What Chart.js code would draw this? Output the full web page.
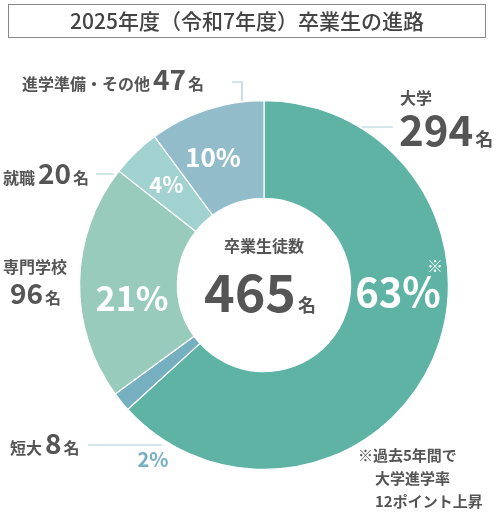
<!DOCTYPE html>
<html><head><meta charset="utf-8">
<script src="https://cdn.jsdelivr.net/npm/chart.js@4"></script>
<style>
body{margin:0;background:#fff;}
#wrap{position:relative;width:496px;height:520px;}
#title{position:absolute;left:8px;top:4px;width:478px;height:34px;border:1.5px solid #888;box-sizing:border-box;
 font:500 21px "Noto Sans CJK JP";color:#444;text-align:center;line-height:31px;}
</style></head><body>
<div id="wrap">
<div id="title">2025年度（令和7年度）卒業生の進路</div>
<canvas id="c" width="496" height="520"></canvas>
</div>
<script>
const categories = ['大学', '短大', '専門学校', '就職', '進学準備・その他'];
const counts = [294, 8, 96, 20, 47];
const percents = ['63%', '2%', '21%', '4%', '10%'];
const total = 465;
const colors = ['#5fb3a5', '#76afc0', '#98cbbb', '#a2d2cf', '#93bccb'];

const NUM = '"Liberation Sans Narrow", "Noto Sans CJK JP"';
const JP = '"Noto Sans CJK JP"';

function seg(ctx, x, y, parts) {
  let cx = x;
  parts.forEach(p => {
    ctx.font = 'bold ' + p[1] + 'px ' + p[2];
    ctx.fillText(p[0], cx, y);
    cx += ctx.measureText(p[0]).width + (p[3] || 0);
  });
}

const labels = {
  id: 'labels',
  afterDraw(chart) {
    const ctx = chart.ctx;
    const meta = chart.getDatasetMeta(0);
    ctx.save();
    ctx.textAlign = 'center'; ctx.textBaseline = 'middle';
    const spots = [[398, 292, 40], [153, 459, 20], [132, 298, 34], null, [213, 157, 26]];
    meta.data.forEach((arc, i) => {
      ctx.fillStyle = i === 1 ? colors[1] : '#fff';
      if (spots[i]) {
        ctx.font = 'bold ' + spots[i][2] + 'px ' + NUM;
        ctx.fillText(percents[i], spots[i][0], spots[i][1]);
        return;
      }
      const p = arc.getProps(['x', 'y', 'startAngle', 'endAngle', 'innerRadius', 'outerRadius'], true);
      const a = (p.startAngle + p.endAngle) / 2;
      const r = p.innerRadius + (p.outerRadius - p.innerRadius) * 0.55;
      ctx.font = 'bold 22px ' + NUM;
      ctx.fillText(percents[i], p.x + Math.cos(a) * r, p.y + Math.sin(a) * r);
    });
    ctx.fillStyle = '#fff';
    ctx.font = 'bold 16px ' + JP;
    ctx.fillText('※', 435, 266);

    ctx.strokeStyle = '#a9cfd2'; ctx.lineWidth = 1.2;
    ctx.beginPath();
    ctx.moveTo(232, 82); ctx.lineTo(242, 82); ctx.lineTo(242, 101);
    ctx.moveTo(362, 127); ctx.lineTo(393, 127);
    ctx.moveTo(96, 174); ctx.lineTo(114, 174);
    ctx.moveTo(88, 445); ctx.lineTo(162, 445);
    ctx.stroke();

    ctx.textAlign = 'left'; ctx.textBaseline = 'alphabetic';
    ctx.fillStyle = '#555';
    seg(ctx, 22, 90, [['進学準備・その他', 16, JP, 3], ['47', 28, NUM, 2], ['名', 16, JP]]);
    seg(ctx, 400, 104, [['大学', 16, JP]]);
    seg(ctx, 399, 146, [['294', 42, NUM, 2], ['名', 18, JP]]);
    seg(ctx, 3, 184, [['就職', 16, JP, 3], ['20', 28, NUM, 2], ['名', 16, JP]]);
    seg(ctx, 3, 273, [['専門学校', 16, JP]]);
    seg(ctx, 10, 304, [['96', 28, NUM, 2], ['名', 16, JP]]);
    seg(ctx, 10, 454, [['短大', 16, JP, 3], ['8', 28, NUM, 2], ['名', 16, JP]]);
    ctx.font = 'bold 15px ' + JP;
    ctx.fillText('※過去5年間で', 358, 461);
    ctx.fillText('大学進学率', 375, 484);
    ctx.fillText('12ポイント上昇', 375, 507);

    ctx.textAlign = 'center';
    ctx.font = 'bold 16px ' + JP;
    ctx.fillText('卒業生徒数', 264, 252);
    ctx.textAlign = 'left';
    seg(ctx, 204, 312, [[String(total), 52, NUM, 2], ['名', 18, JP]]);
    ctx.restore();
  }
};

new Chart(document.getElementById('c'), {
  type: 'doughnut',
  data: {
    labels: categories,
    datasets: [{ data: counts, backgroundColor: colors, borderColor: '#fff', borderWidth: 1.2 }]
  },
  options: {
    responsive: false,
    animation: false,
    cutout: '47%',
    layout: { padding: { left: 79, right: 47, top: 100, bottom: 50 } },
    plugins: { legend: { display: false }, tooltip: { enabled: false } }
  },
  plugins: [labels]
});
</script>
</body></html>
